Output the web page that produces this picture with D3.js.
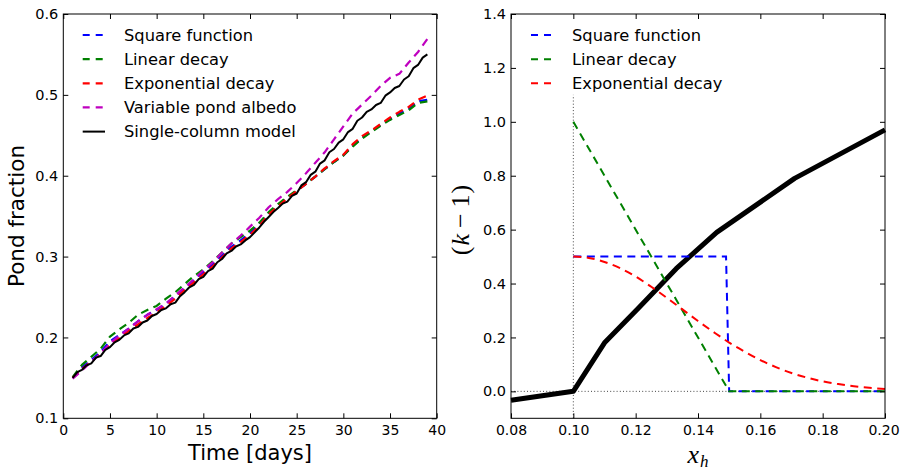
<!DOCTYPE html>
<html>
<head>
<meta charset="utf-8">
<script src="https://cdn.jsdelivr.net/npm/d3@7"></script>
<style>
  html, body { margin: 0; padding: 0; background: #fff; }
  svg { display: block; font-family: "DejaVu Sans", sans-serif; }
</style>
</head>
<body>
<svg id="fig" width="900" height="472"></svg>
<script>
// ---- Left panel: pond fraction over time ----
const days = d3.range(1, 40);           // daily output, days 1..39
const squareFn = [0.150,0.163,0.172,0.182,0.195,0.203,0.211,0.220,0.228,0.234,0.242,0.251,0.261,0.271,0.281,0.290,0.301,0.312,0.320,0.329,0.340,0.353,0.363,0.373,0.381,0.390,0.399,0.408,0.417,0.425,0.437,0.447,0.455,0.463,0.470,0.477,0.483,0.492,0.494];
const linearDecay = [0.151,0.166,0.176,0.186,0.201,0.210,0.218,0.228,0.234,0.239,0.248,0.256,0.266,0.276,0.284,0.294,0.305,0.316,0.324,0.332,0.342,0.355,0.365,0.374,0.382,0.390,0.399,0.408,0.417,0.425,0.436,0.446,0.454,0.462,0.469,0.475,0.481,0.490,0.492];
const expDecay = [0.150,0.161,0.170,0.180,0.191,0.199,0.208,0.216,0.224,0.231,0.239,0.248,0.259,0.268,0.278,0.288,0.299,0.310,0.318,0.327,0.338,0.352,0.362,0.372,0.381,0.390,0.399,0.409,0.418,0.426,0.439,0.449,0.456,0.464,0.472,0.479,0.485,0.494,0.499];
const variableAlbedo = [0.149,0.159,0.170,0.180,0.193,0.202,0.211,0.220,0.228,0.235,0.242,0.252,0.262,0.272,0.283,0.293,0.305,0.316,0.326,0.337,0.348,0.361,0.371,0.380,0.391,0.403,0.416,0.429,0.445,0.461,0.477,0.488,0.499,0.511,0.521,0.526,0.540,0.553,0.569];
// single-column model, output every half day
const halfDays = d3.range(1, 39.01, 0.5);
const singleColumn = [0.150,0.157,0.160,0.1655,0.168,0.175,0.177,0.1845,0.188,0.194,0.197,0.2025,0.205,0.211,0.213,0.2185,0.221,0.2265,0.229,0.234,0.236,0.241,0.243,0.251,0.256,0.262,0.265,0.272,0.275,0.282,0.285,0.293,0.297,0.304,0.307,0.3125,0.315,0.320,0.324,0.330,0.336,0.343,0.349,0.355,0.360,0.3655,0.368,0.375,0.378,0.388,0.392,0.401,0.405,0.415,0.419,0.429,0.433,0.441,0.445,0.454,0.458,0.468,0.472,0.479,0.482,0.4875,0.490,0.499,0.503,0.5085,0.511,0.519,0.523,0.533,0.537,0.546,0.550];
const leftXTicks = [0,5,10,15,20,25,30,35,40];
const leftYTicks = [0.1,0.2,0.3,0.4,0.5,0.6];

// ---- Right panel: (k-1) against x_h ----
const xSquare = [0.10, 0.149, 0.150, 0.20];
const ySquare = [0.5, 0.5, 0.0, 0.0];
const xLinear = [0.10, 0.15, 0.20];
const yLinear = [1.0, 0.0, 0.0];
const xExp = [0.100,0.105,0.110,0.115,0.120,0.125,0.130,0.135,0.140,0.145,0.150,0.155,0.160,0.165,0.170,0.175,0.180,0.185,0.190,0.195,0.200];
const yExp = [0.500,0.495,0.480,0.457,0.426,0.388,0.347,0.304,0.261,0.220,0.181,0.147,0.116,0.090,0.068,0.051,0.037,0.027,0.019,0.013,0.009];
const xColumn = [0.08, 0.10, 0.11, 0.121, 0.133, 0.146, 0.171, 0.20];
const yColumn = [-0.033, 0.0, 0.18, 0.31, 0.455, 0.59, 0.79, 0.97];
const rightXTicks = [0.08,0.10,0.12,0.14,0.16,0.18,0.20];
const rightYTicks = [0.0,0.2,0.4,0.6,0.8,1.0,1.2,1.4];

const C = { b: "#0000ff", g: "#008000", r: "#ff0000", m: "#bf00bf", k: "#000000" };
const DASH = "8,5.5";
const SANS = '"DejaVu Sans", sans-serif';
const SERIF = '"Liberation Serif", "DejaVu Serif", serif';

const svg = d3.select("#fig");
const plotTop = 14, plotBottom = 418.3;

function panel(x0, x1, xDomain, yDomain, xTicks, yTicks, xFmt, yFmt) {
  const x = d3.scaleLinear().domain(xDomain).range([x0, x1]);
  const y = d3.scaleLinear().domain(yDomain).range([plotBottom, plotTop]);
  const g = svg.append("g");
  const plot = g.append("g");
  const tl = 5;
  // inward ticks on all four sides
  const ax = (gen, tx, ty) => g.append("g").attr("transform", `translate(${tx},${ty})`)
    .call(gen).call(s => s.select(".domain").remove())
    .call(s => s.selectAll("line").attr("stroke", "#000").attr("stroke-width", 1));
  const xt = ax(d3.axisBottom(x).tickValues(xTicks).tickSize(-tl).tickPadding(7).tickFormat(xFmt), 0, plotBottom)
    .selectAll("text").style("font-size", "14px").style("font-family", SANS).attr("fill", "#000").attr("dy", "0.72em");
  // keep the last label inside the figure edge
  if (x1 > 880) xt.filter((d, i, n) => i === n.length - 1).attr("dx", -1.5);
  ax(d3.axisTop(x).tickValues(xTicks).tickSize(-tl).tickFormat(""), 0, plotTop);
  ax(d3.axisLeft(y).tickValues(yTicks).tickSize(-tl).tickPadding(5).tickFormat(yFmt), x0, 0)
    .selectAll("text").style("font-size", "14.5px").style("font-family", SANS).attr("fill", "#000");
  ax(d3.axisRight(y).tickValues(yTicks).tickSize(-tl).tickFormat(""), x1, 0);
  g.append("rect").attr("x", x0).attr("y", plotTop).attr("width", x1 - x0).attr("height", plotBottom - plotTop)
    .attr("fill", "none").attr("stroke", "#000").attr("stroke-width", 1);
  return { x, y, plot, g };
}

// ---- left ----
const L = panel(63.3, 436.7, [0, 40], [0.1, 0.6], leftXTicks, leftYTicks, d3.format("d"), d3.format(".1f"));
const leftSeries = [
  { name: "Square function", t: days, v: squareFn, color: C.b, dash: DASH, w: 2.2 },
  { name: "Linear decay", t: days, v: linearDecay, color: C.g, dash: DASH, w: 2.2 },
  { name: "Exponential decay", t: days, v: expDecay, color: C.r, dash: DASH, w: 2.2 },
  { name: "Variable pond albedo", t: days, v: variableAlbedo, color: C.m, dash: DASH, w: 2.2 },
  { name: "Single-column model", t: halfDays, v: singleColumn, color: C.k, dash: null, w: 2 }
];
leftSeries.forEach(s => {
  const line = d3.line().x(i => L.x(s.t[i])).y(i => L.y(s.v[i]));
  L.plot.append("path").attr("d", line(d3.range(s.v.length)))
    .attr("fill", "none").attr("stroke", s.color).attr("stroke-width", s.w)
    .attr("stroke-dasharray", s.dash).attr("stroke-linejoin", "round");
});

function legend(series, lx0, lx1, tx, y0, dy) {
  const lg = svg.append("g");
  series.forEach((s, i) => {
    const yy = y0 + i * dy;
    lg.append("line").attr("x1", lx0).attr("x2", lx1).attr("y1", yy).attr("y2", yy)
      .attr("stroke", s.color).attr("stroke-width", s.w).attr("stroke-dasharray", s.dash ? "7,6" : null);
    lg.append("text").attr("x", tx).attr("y", yy).attr("dy", "0.36em")
      .style("font-size", "16.3px").style("font-family", SANS).text(s.name);
  });
}
legend(leftSeries, 82.7, 105, 124, 35, 24.15);

svg.append("text").attr("x", (63.3 + 436.7) / 2).attr("y", 460).attr("text-anchor", "middle")
  .style("font-size", "21px").style("font-family", SANS).text("Time [days]");
svg.append("text").attr("transform", "translate(24,216) rotate(-90)").attr("text-anchor", "middle")
  .style("font-size", "21.5px").style("font-family", SANS).text("Pond fraction");

// ---- right ----
const R = panel(511, 885, [0.08, 0.20], [-0.1, 1.4], rightXTicks, rightYTicks, d3.format(".2f"), d3.format(".1f"));
// reference lines
R.plot.append("line").attr("x1", R.x(0.08)).attr("x2", R.x(0.20)).attr("y1", R.y(0)).attr("y2", R.y(0))
  .attr("stroke", "#444").attr("stroke-width", 1).attr("stroke-dasharray", "1,2.2");
R.plot.append("line").attr("x1", R.x(0.10)).attr("x2", R.x(0.10)).attr("y1", R.y(-0.1)).attr("y2", R.y(1.1))
  .attr("stroke", "#444").attr("stroke-width", 1).attr("stroke-dasharray", "1,2.2");

const lineXY = (xs, ys, curve) => d3.line().curve(curve || d3.curveLinear)
  .x(i => R.x(xs[i])).y(i => R.y(ys[i]))(d3.range(xs.length));
R.plot.append("path").attr("d", lineXY(xColumn, yColumn))
  .attr("fill", "none").attr("stroke", C.k).attr("stroke-width", 5).attr("stroke-linejoin", "round");
const rightSeries = [
  { name: "Square function", xs: xSquare, ys: ySquare, color: C.b, dash: DASH, w: 2 },
  { name: "Linear decay", xs: xLinear, ys: yLinear, color: C.g, dash: DASH, w: 2 },
  { name: "Exponential decay", xs: xExp, ys: yExp, color: C.r, dash: DASH, w: 2, curve: d3.curveMonotoneX }
];
rightSeries.forEach(s => {
  R.plot.append("path").attr("d", lineXY(s.xs, s.ys, s.curve))
    .attr("fill", "none").attr("stroke", s.color).attr("stroke-width", s.w)
    .attr("stroke-dasharray", s.dash);
});
legend(rightSeries, 531, 553, 572, 35, 24.15);

// math-style axis labels
const xl = svg.append("text").attr("x", 698).attr("y", 463).attr("text-anchor", "middle")
  .style("font-family", SERIF).style("font-style", "italic").style("font-size", "26px");
xl.append("tspan").text("x");
xl.append("tspan").style("font-size", "17px").attr("dx", 1).attr("dy", 4).text("h");

const yl = svg.append("text").attr("transform", "translate(469,220) rotate(-90)").attr("text-anchor", "middle")
  .style("font-family", SERIF).style("font-size", "26px");
yl.append("tspan").text("(");
yl.append("tspan").style("font-style", "italic").attr("dx", 1).text("k");
yl.append("tspan").attr("dx", 6).text("−");
yl.append("tspan").attr("dx", 6).text("1");
yl.append("tspan").attr("dx", 1).text(")");
</script>
</body>
</html>
